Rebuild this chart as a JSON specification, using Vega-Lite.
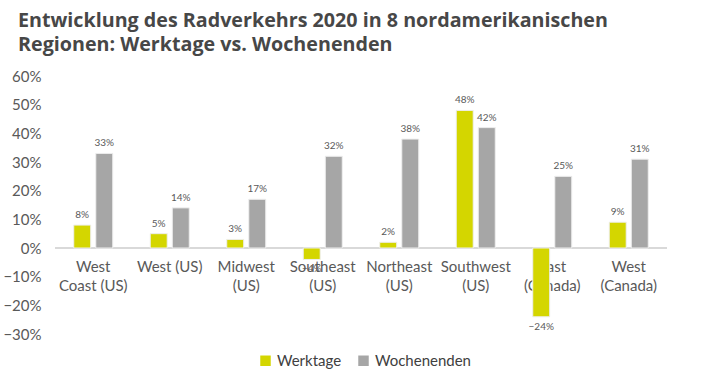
{
  "$schema": "https://vega.github.io/schema/vega-lite/v6.json",
  "width": 612,
  "height": 258,
  "autosize": "none",
  "padding": {"left": 55, "top": 76, "right": 40, "bottom": 46},
  "background": "white",
  "config": {"view": {"stroke": null}, "font": "Lato"},
  "title": {
    "text": ["Entwicklung des Radverkehrs 2020 in 8 nordamerikanischen", "Regionen: Werktage vs. Wochenenden"],
    "anchor": "start",
    "frame": "group",
    "dx": -37,
    "fontSize": 19.7,
    "fontWeight": "bold",
    "font": "Open Sans",
    "color": "#474747",
    "lineHeight": 24,
    "offset": 14
  },
  "data": {
    "values": [
      {"region": "West|Coast (US)", "serie": "Werktage", "value": 0.08},
      {"region": "West|Coast (US)", "serie": "Wochenenden", "value": 0.33},
      {"region": "West (US)", "serie": "Werktage", "value": 0.05},
      {"region": "West (US)", "serie": "Wochenenden", "value": 0.14},
      {"region": "Midwest|(US)", "serie": "Werktage", "value": 0.03},
      {"region": "Midwest|(US)", "serie": "Wochenenden", "value": 0.17},
      {"region": "Southeast|(US)", "serie": "Werktage", "value": -0.04},
      {"region": "Southeast|(US)", "serie": "Wochenenden", "value": 0.32},
      {"region": "Northeast|(US)", "serie": "Werktage", "value": 0.02},
      {"region": "Northeast|(US)", "serie": "Wochenenden", "value": 0.38},
      {"region": "Southwest|(US)", "serie": "Werktage", "value": 0.48},
      {"region": "Southwest|(US)", "serie": "Wochenenden", "value": 0.42},
      {"region": "East|(Canada)", "serie": "Werktage", "value": -0.24},
      {"region": "East|(Canada)", "serie": "Wochenenden", "value": 0.25},
      {"region": "West|(Canada)", "serie": "Werktage", "value": 0.09},
      {"region": "West|(Canada)", "serie": "Wochenenden", "value": 0.31}
    ]
  },
  "encoding": {
    "x": {
      "field": "region", "type": "nominal", "sort": null, "title": null,
      "scale": {"paddingInner": 0.49, "paddingOuter": 0.245},
      "axis": {
        "orient": "bottom", "offset": -86, "domain": false, "ticks": false,
        "labelAngle": 0, "labelFontSize": 15, "labelColor": "#595959",
        "labelPadding": 11, "labelLineHeight": 19, "labelBaseline": "top",
        "labelExpr": "split(datum.label, '|')", "labelFont": "Lato"
      }
    },
    "xOffset": {"field": "serie", "type": "nominal", "sort": ["Werktage", "Wochenenden"], "scale": {"paddingInner": 0.23}},
    "y": {
      "field": "value", "type": "quantitative", "title": null,
      "scale": {"domain": [-0.3, 0.6], "nice": false},
      "axis": {
        "values": [-0.3, -0.2, -0.1, 0, 0.1, 0.2, 0.3, 0.4, 0.5, 0.6],
        "format": ".0%", "grid": false, "domain": false, "ticks": false,
        "labelFontSize": 15, "labelColor": "#595959", "labelPadding": 14, "labelFont": "Lato"
      }
    }
  },
  "layer": [
    {
      "mark": {"type": "rule", "color": "#D9D9D9", "strokeWidth": 1.5},
      "encoding": {"y": {"datum": 0}, "x": null, "xOffset": null}
    },
    {
      "mark": {"type": "bar", "stroke": "#EEEEEE", "strokeWidth": 1},
      "encoding": {
        "color": {
          "field": "serie", "type": "nominal",
          "scale": {"domain": ["Werktage", "Wochenenden"], "range": ["#D4D600", "#A6A6A6"]},
          "legend": {
            "title": null, "orient": "none", "direction": "horizontal",
            "legendX": 203, "legendY": 277, "symbolType": "square", "symbolSize": 110,
            "labelFontSize": 15, "labelColor": "#404040", "labelFont": "Lato", "columnPadding": 14, "symbolStrokeWidth": 0
          }
        }
      }
    },
    {
      "transform": [{"filter": "datum.value >= 0"}],
      "mark": {"type": "text", "baseline": "bottom", "dy": -5, "fontSize": 10, "color": "#595959", "font": "Lato"},
      "encoding": {"text": {"field": "value", "type": "quantitative", "format": ".0%"}}
    },
    {
      "transform": [{"filter": "datum.value < 0"}],
      "mark": {"type": "text", "baseline": "top", "dy": 5, "fontSize": 10, "color": "#595959", "font": "Lato"},
      "encoding": {"text": {"field": "value", "type": "quantitative", "format": ".0%"}}
    }
  ]
}
